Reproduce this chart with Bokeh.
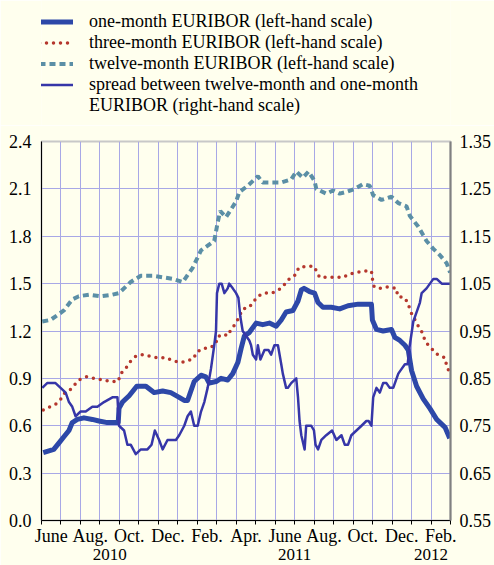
from bokeh.plotting import figure
from bokeh.layouts import column
from bokeh.models import (Range1d, LinearAxis, FixedTicker, Legend, LegendItem,
                          NumeralTickFormatter)
from bokeh.embed import file_html
from bokeh.resources import INLINE

# ---- data (x = months since the start of June 2010) ----
month_labels = ["June", "Aug.", "Oct.", "Dec.", "Feb.", "Apr.",
                "June", "Aug.", "Oct.", "Dec.", "Feb."]
year_labels = ["2010", "2011", "2012"]
year_bounds = [0, 7, 19, 21]          # Jun-2010, Jan-2011, Jan-2012, Mar-2012
n_months = 21
left_ticks = [0.0, 0.3, 0.6, 0.9, 1.2, 1.5, 1.8, 2.1, 2.4]
right_ticks = [0.55, 0.65, 0.75, 0.85, 0.95, 1.05, 1.15, 1.25, 1.35]

one_x = [0.09, 0.63, 0.89, 1.15, 1.41, 1.58, 1.84, 2.18, 2.61, 2.95, 3.38, 3.94, 3.98,
         4.16, 4.50, 4.89, 5.36, 5.78, 6.22, 6.64, 7.07, 7.33, 7.50, 7.84, 8.19, 8.44,
         8.61, 8.96, 9.22, 9.56, 9.82, 10.08, 10.25, 10.42, 10.67, 11.02, 11.36, 11.70,
         12.05, 12.31, 12.56, 12.91, 13.17, 13.34, 13.48, 13.76, 14.02, 14.20, 14.45,
         14.88, 15.31, 15.74, 16.26, 16.68, 16.94, 16.99, 17.20, 17.54, 17.97, 18.14,
         18.40, 18.66, 18.83, 19.00, 19.26, 19.60, 19.94, 20.29, 20.72, 20.96]
one_y = [0.43, 0.45, 0.49, 0.53, 0.57, 0.62, 0.64, 0.65, 0.64, 0.63, 0.62, 0.62, 0.71,
         0.75, 0.79, 0.85, 0.85, 0.81, 0.82, 0.81, 0.78, 0.76, 0.76, 0.88, 0.92, 0.91,
         0.87, 0.88, 0.90, 0.89, 0.93, 1.00, 1.09, 1.17, 1.19, 1.25, 1.24, 1.25,
         1.23, 1.27, 1.32, 1.33, 1.39, 1.46, 1.47, 1.45, 1.44, 1.38, 1.35,
         1.35, 1.34, 1.36, 1.37, 1.37, 1.37, 1.27, 1.21, 1.20, 1.21, 1.16,
         1.14, 1.11, 1.08, 0.95, 0.85, 0.77, 0.71, 0.64, 0.59, 0.52]

three_x = [0.09, 0.43, 0.77, 1.07, 1.20, 1.49, 1.92, 2.32, 2.69, 3.13, 3.55, 3.93, 4.07,
           4.36, 4.58, 4.84, 5.19, 5.58, 5.99, 6.39, 6.78, 7.19, 7.42, 7.76, 8.02, 8.28,
           8.53, 8.74, 8.96, 9.01, 9.31, 9.56, 9.73, 9.99, 10.33, 10.67, 10.85, 11.11,
           11.45, 11.83, 12.17, 12.39, 12.62, 12.86, 13.08, 13.20, 13.59, 13.99, 14.16,
           14.28, 14.71, 15.10, 15.50, 15.77, 16.17, 16.57, 16.94, 16.99, 17.08, 17.40,
           17.80, 18.23, 18.28, 18.66, 18.83, 18.96, 19.35, 19.55, 19.69, 19.86, 20.34,
           20.72, 20.80, 20.97]
three_y = [0.70, 0.72, 0.74, 0.78, 0.81, 0.83, 0.89, 0.91, 0.90, 0.89, 0.88, 0.88, 0.93,
           0.97, 1.01, 1.04, 1.05, 1.04, 1.03, 1.03, 1.01, 1.00, 1.01, 1.02, 1.07, 1.09,
           1.09, 1.10, 1.12, 1.16, 1.18, 1.17, 1.21, 1.25, 1.34, 1.35, 1.38, 1.42,
           1.44, 1.44, 1.46, 1.48, 1.52, 1.54, 1.56, 1.60, 1.61, 1.61, 1.57,
           1.54, 1.54, 1.54, 1.54, 1.56, 1.57, 1.58, 1.58, 1.53, 1.48, 1.47,
           1.48, 1.47, 1.42, 1.41, 1.37, 1.32, 1.23, 1.19, 1.14, 1.11, 1.05,
           1.03, 0.98, 0.93]

twelve_x = [0.04, 0.46, 0.81, 1.15, 1.58, 1.92, 2.44, 3.04, 3.64, 3.98, 4.58, 5.10, 5.70,
            6.22, 6.73, 7.25, 7.76, 8.19, 8.87, 9.05, 9.18, 9.47, 9.73, 9.99, 10.16, 10.59,
            11.11, 11.36, 11.79, 12.31, 12.82, 13.08, 13.42, 13.71, 14.02, 14.11, 14.62,
            14.97, 15.31, 15.65, 16.08, 16.51, 16.85, 17.03, 17.46, 17.71, 17.97, 18.32,
            18.74, 18.91, 19.35, 19.77, 20.12, 20.46, 20.80, 20.98]
twelve_y = [1.26, 1.27, 1.30, 1.33, 1.40, 1.42, 1.43, 1.42, 1.43, 1.44, 1.51, 1.55, 1.55,
            1.54, 1.53, 1.51, 1.60, 1.71, 1.77, 1.89, 1.96, 1.92, 1.97, 2.02, 2.08, 2.12,
            2.18, 2.14, 2.14, 2.14, 2.16, 2.21, 2.17, 2.21, 2.15, 2.10, 2.07,
            2.09, 2.07, 2.08, 2.10, 2.13, 2.12, 2.06, 2.03, 2.04, 2.05, 2.01,
            1.99, 1.93, 1.86, 1.77, 1.72, 1.68, 1.63, 1.57]

spread_x = [0.04, 0.29, 0.72, 0.98, 1.24, 1.41, 1.58, 1.75, 2.01, 2.27, 2.61, 2.87, 3.21,
            3.64, 3.90, 3.98, 4.24, 4.41, 4.58, 4.84, 5.10, 5.44, 5.65, 5.82, 6.04, 6.22,
            6.47, 6.73, 6.90, 7.07, 7.33, 7.50, 7.67, 7.84, 8.02, 8.19, 8.36, 8.53, 8.70,
            8.87, 8.96, 9.01, 9.13, 9.25, 9.39, 9.56, 9.64, 9.82, 9.99, 10.11, 10.21,
            10.33, 10.50, 10.67, 10.76, 10.85, 11.02, 11.11, 11.24, 11.45, 11.65, 11.79,
            11.96, 12.14, 12.31, 12.39, 12.56, 12.65, 12.82, 13.08, 13.17, 13.25, 13.34,
            13.51, 13.59, 13.85, 13.99, 14.07, 14.20, 14.37, 14.62, 14.92, 15.14, 15.40,
            15.57, 15.74, 15.91, 16.17, 16.43, 16.68, 16.80, 16.94, 17.03, 17.20, 17.37,
            17.54, 17.71, 17.88, 18.06, 18.32, 18.49, 18.66, 18.80, 18.91, 19.09, 19.26,
            19.43, 19.52, 19.77, 20.12, 20.29, 20.55, 20.80, 20.98]
spread_y = [0.83, 0.84, 0.84, 0.83, 0.82, 0.80, 0.79, 0.77, 0.78, 0.78, 0.79, 0.79, 0.80,
            0.81, 0.81, 0.75, 0.74, 0.71, 0.71, 0.69, 0.70, 0.70, 0.71, 0.74, 0.72, 0.70,
            0.72, 0.72, 0.72, 0.73, 0.75, 0.77, 0.78, 0.75, 0.75, 0.78, 0.80, 0.83, 0.87,
            0.92, 0.95, 1.03, 1.05, 1.05, 1.03, 1.04, 1.05, 1.04, 1.03, 1.02, 0.98,
            0.95, 0.94, 0.93, 0.92, 0.90, 0.89, 0.92, 0.89, 0.91, 0.91, 0.90,
            0.92, 0.92, 0.88, 0.86, 0.83, 0.83, 0.84, 0.85, 0.81, 0.76, 0.73,
            0.70, 0.75, 0.75, 0.74, 0.71, 0.70, 0.72, 0.73, 0.74, 0.72, 0.73,
            0.71, 0.71, 0.73, 0.74, 0.75, 0.76, 0.76, 0.75, 0.81, 0.83, 0.82,
            0.84, 0.84, 0.83, 0.83, 0.86, 0.87, 0.88, 0.88, 0.92, 0.97, 0.99,
            1.01, 1.03, 1.04, 1.06, 1.06, 1.05, 1.05, 1.05]

legend_labels = ["one-month EURIBOR (left-hand scale)",
                 "three-month EURIBOR (left-hand scale)",
                 "twelve-month EURIBOR (left-hand scale)",
                 "spread between twelve-month and one-month",
                 "EURIBOR (right-hand scale)"]

# ---- styling ----
BG = "#FFFFEE"
GRID = "#A8A8E6"
C_ONE = "#2D48A8"
C_THREE = "#B5372D"
C_TWELVE = "#5B8FA6"
C_SPREAD = "#3636A8"
FONT = "Liberation Serif"
FS = "18px"
ONE = dict(line_color=C_ONE, line_width=5, line_join="round")
THREE = dict(line_color=C_THREE, line_width=3.5, line_dash="0 7", line_cap="round")
TWELVE = dict(line_color=C_TWELVE, line_width=4, line_dash="6 4")
SPREAD = dict(line_color=C_SPREAD, line_width=2.5, line_join="round")

# ---------------- legend strip ----------------
top = figure(width=494, height=125, x_range=Range1d(0, 1), y_range=Range1d(0, 1),
             x_axis_type=None, y_axis_type=None, output_backend="svg",
             toolbar_location=None, min_border=0, background_fill_color=BG,
             border_fill_color=BG, outline_line_color=None)
top.xgrid.visible = False
top.ygrid.visible = False
# off-screen stand-ins that only supply the legend swatches
off_x = [-2, -1]
off_y = [-2, -1]
l1 = top.line(off_x, off_y, **ONE)
l3 = top.line(off_x, off_y, **THREE)
l12 = top.line(off_x, off_y, **TWELVE)
ls = top.line(off_x, off_y, **SPREAD)
l0 = top.line(off_x, off_y, line_alpha=0)
legend = Legend(items=[LegendItem(label=legend_labels[0], renderers=[l1]),
                       LegendItem(label=legend_labels[1], renderers=[l3]),
                       LegendItem(label=legend_labels[2], renderers=[l12]),
                       LegendItem(label=legend_labels[3], renderers=[ls]),
                       LegendItem(label=legend_labels[4], renderers=[l0])],
                location=(-2, 9), orientation="vertical",
                padding=0, margin=0, spacing=0, glyph_width=34, glyph_height=21,
                label_height=21, label_standoff=16,
                label_text_font=FONT, label_text_font_size=FS, label_text_color="black",
                border_line_color=None, background_fill_alpha=0)
top.add_layout(legend)

# ---------------- chart ----------------
p = figure(width=494, height=440, x_range=Range1d(0, n_months), y_range=Range1d(0, 2.4),
           output_backend="svg", toolbar_location=None,
           min_border_left=41, min_border_right=44, min_border_top=16,
           min_border_bottom=45, background_fill_color=BG, border_fill_color=BG)
p.extra_y_ranges = {"right": Range1d(0.55, 1.35)}
p.outline_line_color = "#C8C8C8"
p.outline_line_width = 2

# x axis: month labels centred in their month, ticks at month boundaries
label_pos = [i + 0.5 for i in range(0, n_months, 2)]
xa = p.xaxis[0]
xa.ticker = FixedTicker(ticks=label_pos, minor_ticks=list(range(n_months + 1)))
xa.major_label_overrides = {pos: lab for pos, lab in zip(label_pos, month_labels)}
xa.major_tick_line_color = None
xa.major_tick_out = 4
xa.major_tick_in = 0
xa.minor_tick_out = 4
xa.minor_tick_in = 0
xa.minor_tick_line_color = "black"
xa.axis_line_color = "black"
xa.major_label_standoff = 1
xa.major_label_text_font = FONT
xa.major_label_text_font_size = FS
xa.major_label_text_color = "black"

# second row of x labels: years, centred on their span
year_pos = [(a + b) / 2 for a, b in zip(year_bounds[:-1], year_bounds[1:])]
yax = LinearAxis(ticker=FixedTicker(ticks=year_pos, minor_ticks=[]))
yax.major_label_overrides = {pos: lab for pos, lab in zip(year_pos, year_labels)}
yax.axis_line_color = None
yax.major_tick_line_color = None
yax.minor_tick_line_color = None
yax.major_tick_out = 0
yax.major_tick_in = 0
yax.minor_tick_out = 0
yax.major_label_standoff = 0
yax.major_label_text_font = FONT
yax.major_label_text_font_size = "17px"
yax.major_label_text_color = "black"
p.add_layout(yax, "below")

p.xgrid.ticker = FixedTicker(ticks=list(range(n_months + 1)))
p.xgrid.grid_line_color = GRID
p.xgrid.grid_line_width = 1

# left axis
ya = p.yaxis[0]
ya.ticker = FixedTicker(ticks=left_ticks)
ya.formatter = NumeralTickFormatter(format="0.0")
ya.major_tick_out = 0
ya.major_tick_in = 0
ya.minor_tick_line_color = None
ya.axis_line_color = "black"
ya.major_label_standoff = 10
ya.major_label_text_font = FONT
ya.major_label_text_font_size = FS
ya.major_label_text_color = "black"
p.ygrid.grid_line_color = GRID
p.ygrid.grid_line_width = 1

# right axis
ra = LinearAxis(y_range_name="right", ticker=FixedTicker(ticks=right_ticks),
                formatter=NumeralTickFormatter(format="0.00"))
ra.major_tick_out = 0
ra.major_tick_in = 0
ra.minor_tick_line_color = None
ra.axis_line_color = "#808080"
ra.axis_line_width = 2
ra.major_label_standoff = 9
ra.major_label_text_font = FONT
ra.major_label_text_font_size = FS
ra.major_label_text_color = "black"
p.add_layout(ra, "right")

# series
p.line(twelve_x, twelve_y, **TWELVE)
p.line(three_x, three_y, **THREE)
p.line(one_x, one_y, **ONE)
p.line(spread_x, spread_y, y_range_name="right", **SPREAD)

layout = column(top, p, spacing=0)
open("out.html", "w").write(file_html(layout, INLINE))
